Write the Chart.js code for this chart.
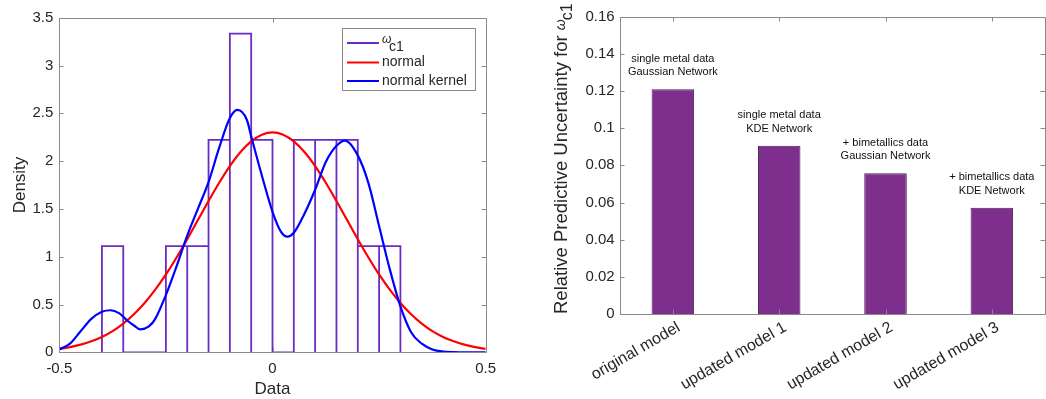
<!DOCTYPE html>
<html><head><meta charset="utf-8">
<script src="https://cdn.jsdelivr.net/npm/chart.js@4.4.0/dist/chart.umd.min.js"></script>
<style>
html,body{margin:0;padding:0;background:#fff;width:1046px;height:399px;overflow:hidden;}
#w1{position:absolute;left:0;top:0;width:520px;height:399px;}
#w2{position:absolute;left:520px;top:0;width:526px;height:399px;}
</style></head><body>
<div id="w1"><canvas id="c1"></canvas></div>
<div id="w2"><canvas id="c2"></canvas></div>
<script>
// ---------- data: left panel ----------
const binEdges = [-0.40,-0.35,-0.30,-0.25,-0.20,-0.15,-0.10,-0.05,0.00,0.05,0.10,0.15,0.20,0.25,0.30];
const binDensity = [1.111,0,0,1.111,1.111,2.222,3.333,2.222,0,2.222,2.222,2.222,1.111,1.111];
const normalX = [-0.5,-0.475,-0.45,-0.425,-0.4,-0.375,-0.35,-0.325,-0.3,-0.275,-0.25,-0.225,-0.2,-0.175,-0.15,-0.125,-0.1,-0.075,-0.05,-0.025,0,
                 0.025,0.05,0.075,0.1,0.125,0.15,0.175,0.2,0.225,0.25,0.275,0.3,0.325,0.35,0.375,0.4,0.425,0.45,0.475,0.5];
const normalY = [0.036,0.054,0.080,0.115,0.161,0.222,0.301,0.398,0.516,0.655,0.814,0.992,1.183,1.383,1.583,1.774,1.948,2.095,2.206,2.276,2.300,
                 2.276,2.206,2.095,1.948,1.774,1.583,1.383,1.183,0.992,0.814,0.655,0.516,0.398,0.301,0.222,0.161,0.115,0.080,0.054,0.036];
const kernelX = [-0.5,-0.475,-0.45,-0.425,-0.4,-0.38,-0.36,-0.34,-0.325,-0.31,-0.29,-0.275,-0.25,-0.225,-0.2,-0.175,-0.15,-0.125,-0.1,-0.0825,-0.06,-0.05,-0.025,
                 0,0.02,0.035,0.05,0.075,0.1,0.125,0.15,0.17,0.2,0.225,0.25,0.275,0.3,0.325,0.35,0.375,0.4,0.425,0.45,0.475,0.5];
const kernelY = [0.03,0.09,0.22,0.35,0.425,0.44,0.41,0.33,0.28,0.24,0.27,0.35,0.60,0.90,1.22,1.50,1.78,2.14,2.45,2.535,2.43,2.26,1.85,
                 1.47,1.26,1.21,1.25,1.45,1.70,1.99,2.16,2.215,2.06,1.77,1.32,0.87,0.48,0.21,0.09,0.03,0.008,0.002,0,0,0];
const leftLegend = ['ω', 'normal', 'normal kernel'];

// ---------- data: right panel ----------
const models = ['original model','updated model 1','updated model 2','updated model 3'];
const uncertainty = [0.121, 0.0905, 0.0758, 0.0572];
const barNotes = [['single metal data','Gaussian Network'],['single metal data','KDE Network'],
                  ['+ bimetallics data','Gaussian Network'],['+ bimetallics data','KDE Network']];

// ---------- styling ----------
const FONT = '"Liberation Sans", Arial, Helvetica, sans-serif';
const AXIS = '#8a8a8a';
const TXT = '#262626';
const HIST = '#6a2cc4';
const TL = 4.5;
const fmt = v => String(Math.round(v * 1e6) / 1e6);

// histogram outline built from the bins
const histPts = [];
for (let i = 0; i < binDensity.length; i++) {
  histPts.push({x: binEdges[i], y: 0}, {x: binEdges[i], y: binDensity[i]},
               {x: binEdges[i+1], y: binDensity[i]}, {x: binEdges[i+1], y: 0});
}
const toPts = (xs, ys) => xs.map((x, i) => ({x, y: ys[i]}));

function px(v){ return Math.round(v) + 0.5; }

function drawBox(chart, xTickPix, yTickPix) {
  const {ctx, chartArea: a} = chart;
  ctx.save();
  ctx.strokeStyle = AXIS; ctx.lineWidth = 1;
  ctx.beginPath();
  ctx.rect(px(a.left), px(a.top), Math.round(a.right) - Math.round(a.left), Math.round(a.bottom) - Math.round(a.top));
  xTickPix.forEach(x => {
    ctx.moveTo(px(x), Math.round(a.bottom)); ctx.lineTo(px(x), Math.round(a.bottom) - TL);
    ctx.moveTo(px(x), Math.round(a.top)); ctx.lineTo(px(x), Math.round(a.top) + TL);
  });
  yTickPix.forEach(y => {
    ctx.moveTo(Math.round(a.left), px(y)); ctx.lineTo(Math.round(a.left) + TL, px(y));
    ctx.moveTo(Math.round(a.right), px(y)); ctx.lineTo(Math.round(a.right) - TL, px(y));
  });
  ctx.stroke();
  ctx.restore();
}

const leftPlugin = {
  id: 'leftDecor',
  afterDatasetsDraw(chart) {
    const {ctx, scales} = chart;
    drawBox(chart, scales.x.ticks.map(t => scales.x.getPixelForValue(t.value)),
                   scales.y.ticks.map(t => scales.y.getPixelForValue(t.value)));
    // axis titles
    ctx.save();
    ctx.fillStyle = TXT; ctx.font = '17px ' + FONT;
    ctx.textAlign = 'center'; ctx.textBaseline = 'middle';
    ctx.fillText('Data', (chart.chartArea.left + chart.chartArea.right) / 2, 389);
    ctx.translate(20, (chart.chartArea.top + chart.chartArea.bottom) / 2);
    ctx.rotate(-Math.PI / 2);
    ctx.fillText('Density', 0, 0);
    ctx.restore();
    // legend
    ctx.save();
    const lx = 342, ly = 28, lw = 133, lh = 62;
    ctx.fillStyle = '#fff'; ctx.fillRect(lx, ly, lw, lh);
    ctx.strokeStyle = AXIS; ctx.lineWidth = 1; ctx.strokeRect(lx + 0.5, ly + 0.5, lw, lh);
    const rows = [43, 62.5, 81];
    const ds = chart.data.datasets;
    const order = [2, 1, 0];
    rows.forEach((ry, i) => {
      const d = ds[order[i]];
      ctx.strokeStyle = d.borderColor; ctx.lineWidth = 2;
      ctx.beginPath(); ctx.moveTo(347, ry); ctx.lineTo(379, ry); ctx.stroke();
    });
    ctx.fillStyle = TXT; ctx.textAlign = 'left'; ctx.textBaseline = 'middle';
    ctx.font = 'italic 12px ' + FONT;
    ctx.fillText(leftLegend[0], 382, 40);
    ctx.font = '14px ' + FONT;
    ctx.fillText('c1', 389, 47.5);
    ctx.fillText(leftLegend[1], 382, rows[1]);
    ctx.fillText(leftLegend[2], 382, rows[2]);
    ctx.restore();
  }
};

new Chart(document.getElementById('c1'), {
  type: 'line',
  data: {
    datasets: [
      {label: 'normal kernel', data: toPts(kernelX, kernelY), borderColor: '#0000ff', borderWidth: 2.2,
       pointRadius: 0, cubicInterpolationMode: 'monotone', fill: false},
      {label: 'normal', data: toPts(normalX, normalY), borderColor: '#ff0000', borderWidth: 2.2,
       pointRadius: 0, cubicInterpolationMode: 'monotone', fill: false},
      {label: 'omega_c1', data: histPts, borderColor: HIST, borderWidth: 1.8, pointRadius: 0, tension: 0, fill: false}
    ]
  },
  options: {
    responsive: true, maintainAspectRatio: false, animation: false, devicePixelRatio: 1,
    layout: {padding: {left: 0, top: 17.7, right: 34.3, bottom: 0}},
    plugins: {legend: {display: false}, tooltip: {enabled: false}},
    scales: {
      x: {type: 'linear', min: -0.5, max: 0.5,
          ticks: {stepSize: 0.5, color: TXT, font: {size: 15, family: FONT}, padding: 8, maxRotation: 0, callback: fmt},
          grid: {display: false, drawTicks: false}, border: {display: false},
          afterFit: s => { s.height = 46.7; }},
      y: {type: 'linear', min: 0, max: 3.5,
          ticks: {stepSize: 0.5, color: TXT, font: {size: 15, family: FONT}, padding: 6, callback: fmt},
          grid: {display: false, drawTicks: false}, border: {display: false},
          afterFit: s => { s.width = 59.3; }}
    }
  },
  plugins: [leftPlugin]
});

const rightPlugin = {
  id: 'rightDecor',
  afterDatasetsDraw(chart) {
    const {ctx, scales} = chart;
    drawBox(chart, scales.x.ticks.map((t, i) => scales.x.getPixelForTick(i)),
                   scales.y.ticks.map(t => scales.y.getPixelForValue(t.value)));
    // bar notes
    ctx.save();
    ctx.fillStyle = '#111'; ctx.font = '11px ' + FONT;
    ctx.textAlign = 'center'; ctx.textBaseline = 'middle';
    chart.getDatasetMeta(0).data.forEach((bar, i) => {
      ctx.fillText(barNotes[i][0], bar.x, bar.y - 30.5);
      ctx.fillText(barNotes[i][1], bar.x, bar.y - 17);
    });
    ctx.restore();
    // y title
    ctx.save();
    ctx.fillStyle = TXT; ctx.textBaseline = 'middle'; ctx.textAlign = 'left';
    ctx.translate(42, 314);
    ctx.rotate(-Math.PI / 2);
    ctx.font = '18.5px ' + FONT;
    const main = 'Relative Predictive Uncertainty for ';
    ctx.fillText(main, 0, 0);
    let w = ctx.measureText(main).width;
    ctx.font = 'italic 14px ' + FONT;
    ctx.fillText('ω', w, -1);
    w += ctx.measureText('ω').width;
    ctx.font = '16px ' + FONT;
    ctx.fillText('c1', w - 1, 5.5);
    ctx.restore();
  }
};

new Chart(document.getElementById('c2'), {
  type: 'bar',
  data: {
    labels: models,
    datasets: [{data: uncertainty, backgroundColor: '#7e2f8e', borderColor: '#4a2050', borderWidth: 1,
                barPercentage: 0.4, categoryPercentage: 1}]
  },
  options: {
    responsive: true, maintainAspectRatio: false, animation: false, devicePixelRatio: 1,
    layout: {padding: {left: 0, top: 16.7, right: 1, bottom: 0}},
    plugins: {legend: {display: false}, tooltip: {enabled: false}},
    scales: {
      x: {ticks: {color: TXT, font: {size: 16, family: FONT}, minRotation: 30, maxRotation: 30,
                  padding: 4, labelOffset: 6, autoSkip: false},
          grid: {display: false, drawTicks: false}, border: {display: false},
          afterFit: s => { s.height = 85; }},
      y: {min: 0, max: 0.16,
          ticks: {stepSize: 0.02, color: TXT, font: {size: 15, family: FONT}, padding: 5, callback: fmt},
          grid: {display: false, drawTicks: false}, border: {display: false},
          afterFit: s => { s.width = 99.7; }}
    }
  },
  plugins: [rightPlugin]
});
</script>
</body></html>
